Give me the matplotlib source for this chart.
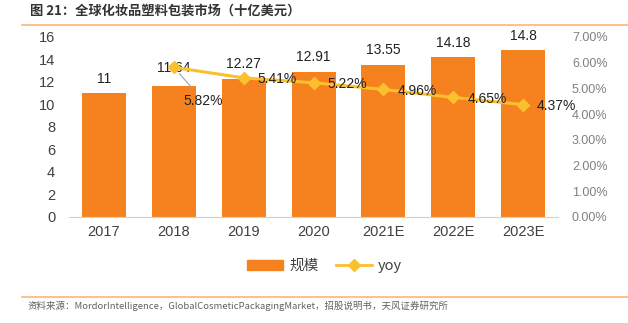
import matplotlib.pyplot as plt
import numpy as np
from matplotlib.lines import Line2D

plt.rcParams["font.family"] = ["Liberation Sans", "Noto Sans CJK SC", "DejaVu Sans"]

years = ["2017", "2018", "2019", "2020", "2021E", "2022E", "2023E"]
scale = [11, 11.64, 12.27, 12.91, 13.55, 14.18, 14.8]
yoy_years = ["2018", "2019", "2020", "2021E", "2022E", "2023E"]
yoy = [5.82, 5.41, 5.22, 4.96, 4.65, 4.37]

BAR_COLOR = "#F5821F"
LINE_COLOR = "#FBC02D"
RULE_COLOR = "#F8B67C"
CJK = ["Noto Sans CJK SC", "DejaVu Sans"]

fig = plt.figure(figsize=(6.28, 3.23), dpi=100)
ax = fig.add_axes([0.1099, 0.3282, 0.7787, 0.5573])
ax2 = ax.twinx()

x = np.arange(len(years))
ax.bar(x, scale, width=0.63, color=BAR_COLOR, zorder=2)
for i, v in enumerate(scale):
    dy = 13 if i == 1 else 10.5
    ax.annotate(f"{v:g}", (i, v), xytext=(0, dy), textcoords="offset points",
                ha="center", va="center", fontsize=10, color="#222222")

ax.set_xlim(-0.5, len(years) - 0.5)
ax.set_ylim(0, 16)
ax.set_yticks(range(0, 17, 2))
ax.set_xticks(x)
ax.set_xticklabels(years)
ax.tick_params(axis="both", length=0, labelsize=10.5, colors="#404040", pad=6)
ax.tick_params(axis="y", pad=10)
for s in ["top", "right", "left"]:
    ax.spines[s].set_visible(False)
ax.spines["bottom"].set_color("#D0D0D0")

# yoy line on the right-hand axis
yx = [years.index(y) for y in yoy_years]
ax2.plot(yx, yoy, color=LINE_COLOR, lw=2.2, marker="D", ms=6, zorder=3)
ax2.set_ylim(0, 7)
ax2.set_yticks(range(0, 8))
ax2.set_yticklabels([f"{t:.2f}%" for t in range(0, 8)])
ax2.tick_params(axis="y", length=0, labelsize=9, colors="#808080", pad=10)
for s in ax2.spines.values():
    s.set_visible(False)

for xi, v in zip(yx, yoy):
    if xi == 1:
        ax2.annotate(f"{v:.2f}%", (xi, v), xytext=(7, -24), textcoords="offset points",
                     ha="left", va="center", fontsize=10, color="#222222", zorder=4,
                     arrowprops=dict(arrowstyle="-", color="#A0A0A0", lw=0.8,
                                     shrinkA=3, shrinkB=6))
    else:
        ax2.annotate(f"{v:.2f}%", (xi, v), xytext=(10, -1), textcoords="offset points",
                     ha="left", va="center", fontsize=10, color="#222222", zorder=4)

handles = [
    plt.Rectangle((0, 0), 1, 1, color=BAR_COLOR),
    Line2D([0], [0], color=LINE_COLOR, lw=2, marker="D", ms=6),
]
leg = fig.legend(handles, ["规模", "yoy"], loc="center", bbox_to_anchor=(0.517, 0.176),
                 ncol=2, frameon=False, handlelength=2.5,
                 columnspacing=1.2, handletextpad=0.4, prop={"family": CJK, "size": 10.5})
for t in leg.get_texts():
    t.set_color("#404040")

fig.text(0.048, 0.966, "图 21：全球化妆品塑料包装市场（十亿美元）", family=CJK,
         fontsize=9.5, fontweight="bold", color="#333333", ha="left", va="center")
fig.add_artist(Line2D([0.035, 1.0], [0.923, 0.923], color=RULE_COLOR, lw=1.2))
fig.add_artist(Line2D([0.035, 1.0], [0.081, 0.081], color=RULE_COLOR, lw=1.2))
fig.text(0.043, 0.052,
         "资料来源：MordorIntelligence，GlobalCosmeticPackagingMarket，招股说明书，天风证券研究所",
         family=CJK, fontsize=6.8, color="#606060", ha="left", va="center")

fig.savefig("out.png", dpi=100)
